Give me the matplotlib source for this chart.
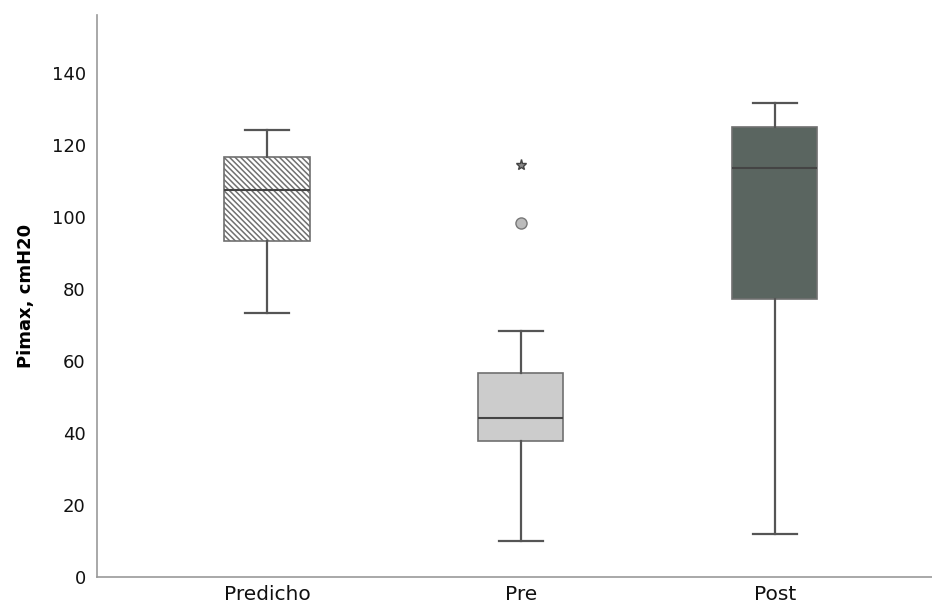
import matplotlib
matplotlib.use("Agg")
import matplotlib.pyplot as plt

# Datos del diagrama de cajas
grupos = ["Predicho", "Pre", "Post"]
whislo = [73.3, 10.0, 11.9]
q1 = [93.3, 37.8, 77.2]
med = [107.5, 44.2, 113.6]
q3 = [116.7, 56.7, 125.0]
whishi = [124.2, 68.3, 131.7]
atipicos_circulo = [[], [98.3], []]
atipicos_estrella = [[], [114.4], []]

colores = ["white", "#cccccc", "#5a6560"]
tramas = ["\\\\\\\\\\\\", "", ""]

plt.rcParams["hatch.color"] = "#4a4a4a"
plt.rcParams["hatch.linewidth"] = 1.1

fig = plt.figure(figsize=(9.32, 6.08), dpi=100)
ax = fig.add_axes([0.104, 0.051, 0.896, 0.924])

stats = []
for i in range(len(grupos)):
    stats.append(dict(label=grupos[i], whislo=whislo[i], q1=q1[i], med=med[i],
                      q3=q3[i], whishi=whishi[i], fliers=atipicos_circulo[i]))

bp = ax.bxp(stats, positions=[1, 2, 3], widths=0.335, patch_artist=True,
            showfliers=True,
            boxprops=dict(edgecolor="#707070", linewidth=1.2),
            medianprops=dict(color="#444444", linewidth=1.5),
            whiskerprops=dict(color="#555555", linewidth=1.6),
            capprops=dict(color="#555555", linewidth=1.6),
            flierprops=dict(marker="o", markersize=8, markerfacecolor="#bbbbbb",
                            markeredgecolor="#777777", markeredgewidth=1))
for caja, c, h in zip(bp["boxes"], colores, tramas):
    caja.set_facecolor(c)
    caja.set_hatch(h)
for cap in bp["caps"]:
    x = cap.get_xdata()
    m = (x[0] + x[1]) / 2
    cap.set_xdata([m - 0.087, m + 0.087])

for i, vals in enumerate(atipicos_estrella):
    if vals:
        ax.plot([i + 1] * len(vals), vals, linestyle="none", marker="*",
                markersize=8, markerfacecolor="#888888", markeredgecolor="#444444")

ax.set_xlim(0.33, 3.62)
ax.set_ylim(0, 156)
ax.set_yticks(range(0, 141, 20))
ax.tick_params(length=0, labelsize=13, colors="#111111", pad=8)
ax.tick_params(axis="x", labelsize=14.5, pad=6)
ax.set_ylabel("Pimax, cmH20", fontsize=13, fontweight="bold", labelpad=12)
for s in ["top", "right"]:
    ax.spines[s].set_visible(False)
for s in ["left", "bottom"]:
    ax.spines[s].set_color("#999999")
    ax.spines[s].set_linewidth(1.2)

fig.savefig("out.png", dpi=100)
